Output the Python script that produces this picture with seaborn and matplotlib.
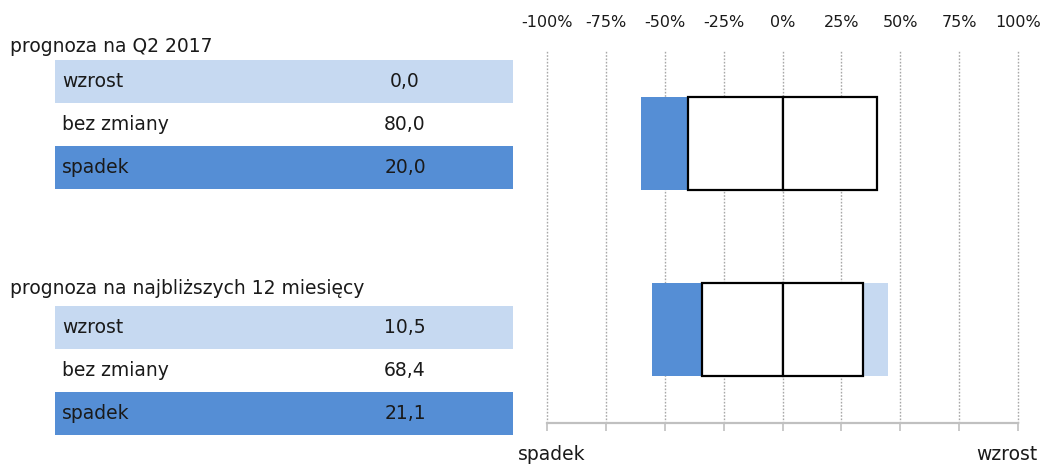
import matplotlib
matplotlib.use("Agg")
import matplotlib.pyplot as plt
import seaborn as sns
import pandas as pd
from matplotlib.patches import Rectangle

# ---------------- data ----------------
periods = ["prognoza na Q2 2017", "prognoza na najbliższych 12 miesięcy"]
categories = ["wzrost", "bez zmiany", "spadek"]
wzrost = [0.0, 10.5]
bez_zmiany = [80.0, 68.4]
spadek = [20.0, 21.1]
tick_values = [-100, -75, -50, -25, 0, 25, 50, 75, 100]
tick_labels = ["-100%", "-75%", "-50%", "-25%", "0%", "25%", "50%", "75%", "100%"]
axis_left_label = "spadek"
axis_right_label = "wzrost"

# ---------------- style ----------------
sns.set_theme(style="white")
plt.rcParams["font.family"] = ["DejaVu Sans"]
DARK = "#558ED5"
LIGHT = "#C6D9F1"
TXT = "#1a1a1a"
FS = 13.5

df = pd.DataFrame({"okres": periods, "wzrost": wzrost,
                   "bez": bez_zmiany, "spadek": spadek})
df["left_end"] = -(df["bez"] / 2 + df["spadek"])
df["right_end"] = df["bez"] / 2 + df["wzrost"]
df["half_neg"] = -df["bez"] / 2
df["half_pos"] = df["bez"] / 2

W, H = 1046, 466
fig = plt.figure(figsize=(W / 100, H / 100), dpi=100)

# ---------------- bar chart ----------------
ax = fig.add_axes([547 / W, 1 - 423 / H, 471 / W, 373 / H])
common = dict(data=df, y="okres", orient="h", width=0.5, saturation=1, ax=ax, errorbar=None)
sns.barplot(x="left_end", color=DARK, linewidth=0, **common)
sns.barplot(x="right_end", color=LIGHT, linewidth=0, **common)
sns.barplot(x="half_neg", color="white", edgecolor="black", linewidth=1.6, **common)
sns.barplot(x="half_pos", color="white", edgecolor="black", linewidth=1.6, **common)

ax.set_xlim(-100, 100)
ax.set_ylim(1.5, -0.5)
ax.set_yticks([])
ax.set_xlabel("")
ax.set_ylabel("")
ax.set_xticks(tick_values)
ax.set_xticklabels(tick_labels)
ax.grid(axis="x", linestyle=(0, (1.2, 1.2)), color="#a8a8a8", linewidth=1)
ax.grid(axis="y", visible=False)
for gl in ax.get_xgridlines():
    gl.set_clip_on(False)
ax.set_axisbelow(True)
for s in ["left", "right", "top"]:
    ax.spines[s].set_visible(False)
ax.spines["bottom"].set_color("#c0c0c0")
ax.spines["bottom"].set_linewidth(1.6)
ax.tick_params(axis="x", which="both", bottom=True, top=False,
               labelbottom=False, labeltop=True, length=5.5, width=1.2,
               color="#c0c0c0", labelsize=11.5, pad=9, direction="out",
               labelcolor=TXT)
ax.patch.set_alpha(0)

# ---------------- left tables (pixel coordinates) ----------------
tab = fig.add_axes([0, 0, 1, 1], zorder=-1)
tab.set_xlim(0, W)
tab.set_ylim(H, 0)
tab.axis("off")

title_y = [47, 288]
band_top = [60, 306]
row_h = 43
row_fill = {"wzrost": LIGHT, "bez zmiany": "white", "spadek": DARK}
for i, period in enumerate(periods):
    tab.text(10, title_y[i], period, fontsize=FS, color=TXT, va="center", ha="left")
    vals = {"wzrost": wzrost[i], "bez zmiany": bez_zmiany[i], "spadek": spadek[i]}
    for j, cat in enumerate(categories):
        y0 = band_top[i] + j * row_h
        tab.add_patch(Rectangle((55, y0), 458, row_h, facecolor=row_fill[cat],
                                edgecolor="none"))
        tab.text(62, y0 + row_h / 2, cat, fontsize=FS, color=TXT,
                 va="center", ha="left")
        tab.text(405, y0 + row_h / 2, f"{vals[cat]:.1f}".replace(".", ","),
                 fontsize=FS, color=TXT, va="center", ha="center")

tab.text(518, 455, axis_left_label, fontsize=FS, color=TXT, va="center", ha="left")
tab.text(1037, 455, axis_right_label, fontsize=FS, color=TXT, va="center", ha="right")

fig.savefig("out.png", dpi=100)
